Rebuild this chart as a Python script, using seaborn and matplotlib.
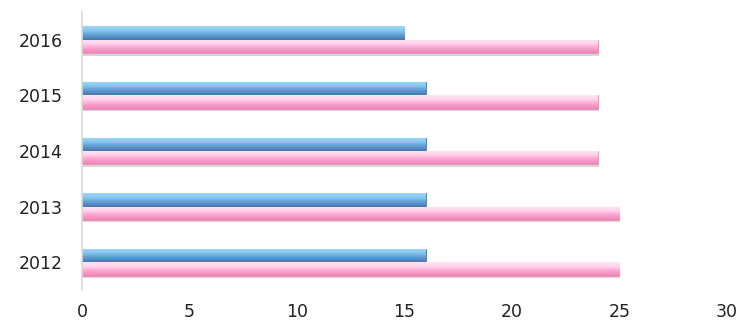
import matplotlib
matplotlib.use("Agg")
import matplotlib.pyplot as plt
import seaborn as sns
import pandas as pd
import numpy as np
from matplotlib.colors import LinearSegmentedColormap

years = ["2016", "2015", "2014", "2013", "2012"]
series_a = [15, 16, 16, 16, 16]
series_b = [24, 24, 24, 25, 25]
series_names = ["A", "B"]
xticks = [0, 5, 10, 15, 20, 25, 30]

df = pd.DataFrame({
    "year": years * 2,
    "value": series_a + series_b,
    "series": [series_names[0]] * len(years) + [series_names[1]] * len(years),
})

sns.set_theme(style="white")
plt.rcParams["font.family"] = ["DejaVu Sans"]

fig = plt.figure(figsize=(7.4, 3.23), dpi=100)
ax = fig.add_axes([0.111, 0.102, 0.871, 0.861])

sns.barplot(data=df, x="value", y="year", hue="series", order=years,
            hue_order=series_names, palette=["#5B9BD5", "#F7A1CE"],
            orient="h", width=0.48, gap=0.0, legend=False, ax=ax,
            edgecolor="none", saturation=1)

xlim = (0, 30)
ax.set_xlim(*xlim)
ylim = ax.get_ylim()

# gradient (bevel-like) fill clipped to each bar
cmap_blue = LinearSegmentedColormap.from_list(
    "b", ["#9FD6F7", "#86C6EF", "#5E9BD2", "#4677AE"])
cmap_pink = LinearSegmentedColormap.from_list(
    "p", ["#FFE6F4", "#FFD2EA", "#FB9FCD", "#EC86BA"])
grad = np.linspace(0, 1, 64).reshape(-1, 1)
n = len(years)
for i, p in enumerate(list(ax.patches)):
    x0, y0 = p.get_x(), p.get_y()
    w, h = p.get_width(), p.get_height()
    cmap = cmap_blue if i < n else cmap_pink
    ec = "#4A7DB3" if i < n else "#E68CBB"
    sh = plt.Rectangle((x0 + 0.04, y0 + h * 0.18), w, h, facecolor="#000000",
                       alpha=0.16, edgecolor="none", zorder=1.5)
    ax.add_patch(sh)
    p.set_zorder(2)
    p.set_edgecolor(ec)
    p.set_linewidth(0.6)
    im = ax.imshow(grad, cmap=cmap, aspect="auto",
                   extent=(x0, x0 + w, y0 + h, y0), zorder=2.1,
                   interpolation="bilinear")
    im.set_clip_path(p)

ax.set_xlim(*xlim)
ax.set_ylim(*ylim)
ax.set_xticks(xticks)
ax.set_xticklabels([str(t) for t in xticks], fontsize=12.5, color="#222222")
ax.tick_params(axis="y", labelsize=12.5, labelcolor="#222222", length=0, pad=14)
ax.tick_params(axis="x", length=0, pad=9)
ax.set_xlabel("")
ax.set_ylabel("")
for s in ["top", "right", "bottom"]:
    ax.spines[s].set_visible(False)
ax.spines["left"].set_color("#D9D9D9")
ax.spines["left"].set_linewidth(1.2)

fig.savefig("out.png", dpi=100)
